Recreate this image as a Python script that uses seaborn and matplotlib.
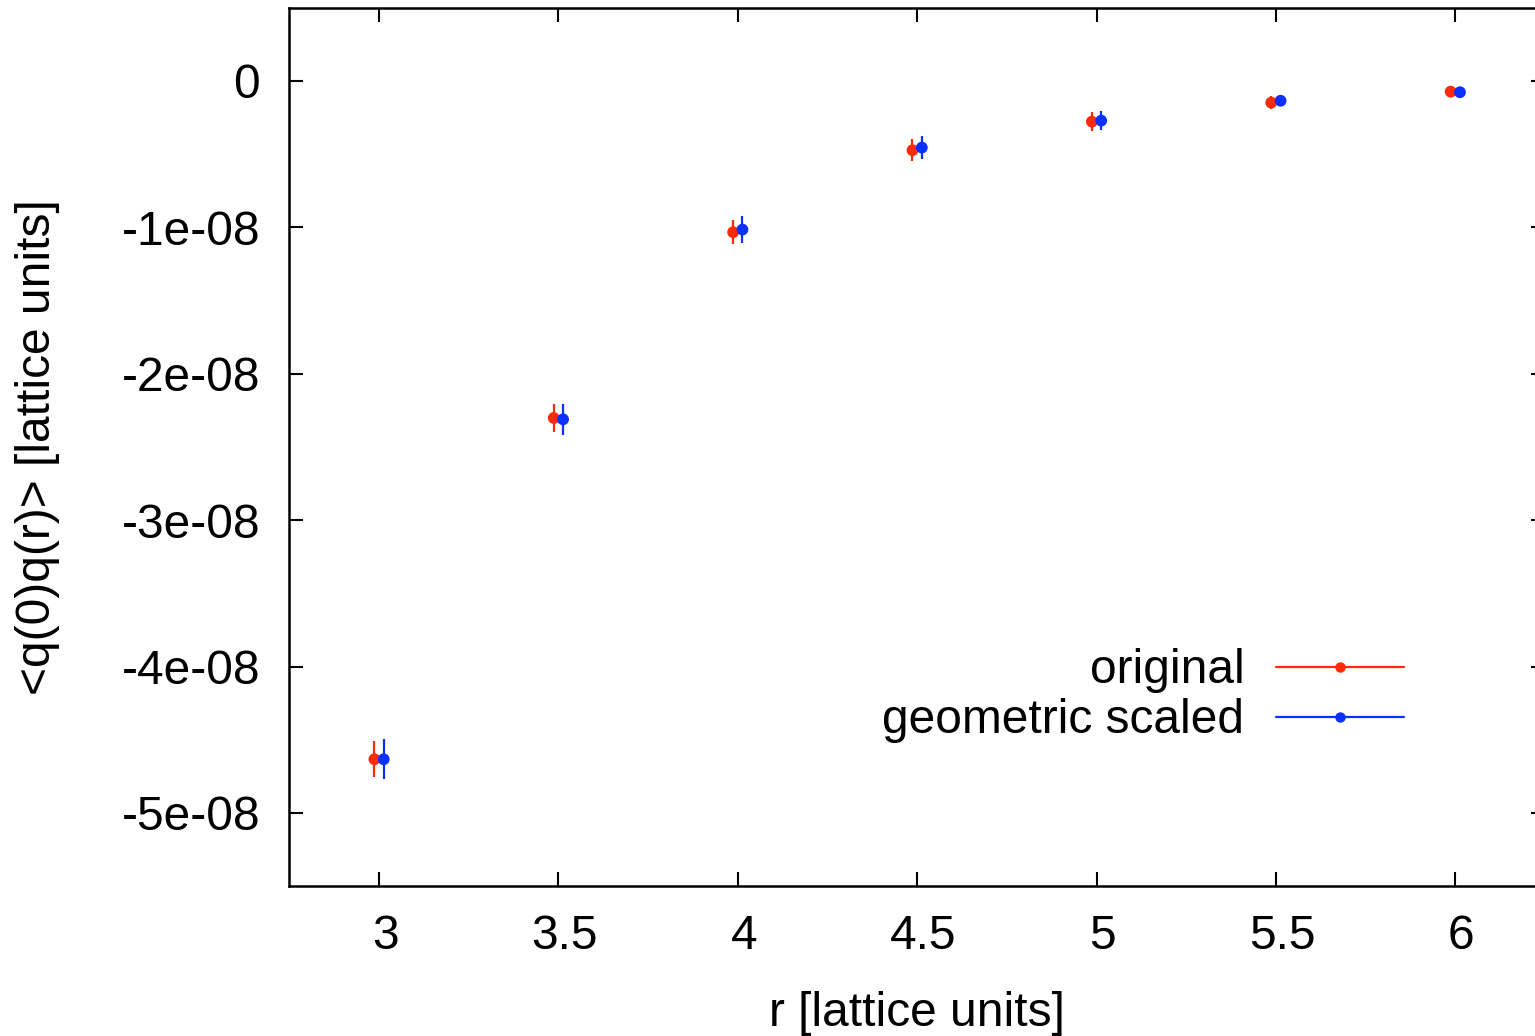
import numpy as np
import pandas as pd
import matplotlib
matplotlib.use('Agg')
import matplotlib.pyplot as plt
from matplotlib.lines import Line2D
from matplotlib.transforms import ScaledTranslation
import seaborn as sns

# distances and correlator values
r = [3.0, 3.5, 4.0, 4.5, 5.0, 5.5, 6.0]
corr_original = [-4.633e-8, -2.302e-8, -1.033e-8, -0.473e-8, -0.278e-8, -0.148e-8, -0.073e-8]
err_original = [1.24e-9, 0.94e-9, 0.83e-9, 0.77e-9, 0.63e-9, 0.42e-9, 0.39e-9]
corr_geometric = [-4.633e-8, -2.311e-8, -1.015e-8, -0.455e-8, -0.271e-8, -0.135e-8, -0.077e-8]
err_geometric = [1.37e-9, 1.08e-9, 0.94e-9, 0.80e-9, 0.65e-9, 0.25e-9, 0.20e-9]

series = ['original', 'geometric scaled']
colors = {'original': '#ff2a0a', 'geometric scaled': '#0a30ff'}
shift = {'original': -0.013, 'geometric scaled': 0.013}  # small x offset so bars don't overlap

df = pd.concat([
    pd.DataFrame({'r': r, 'corr': corr_original, 'err': err_original, 'series': 'original'}),
    pd.DataFrame({'r': r, 'corr': corr_geometric, 'err': err_geometric, 'series': 'geometric scaled'}),
], ignore_index=True)
df['x'] = df['r'] + df['series'].map(shift)

sns.set_style('ticks')
plt.rcParams['font.family'] = ['Liberation Sans', 'DejaVu Sans']
plt.rcParams['text.color'] = 'black'
plt.rcParams['axes.labelcolor'] = 'black'

FS = 34.5

fig = plt.figure(figsize=(15.35, 10.36), dpi=100)
ax = fig.add_axes([0.1885, 0.1446, 0.818, 0.8479])

for name in series:
    sub = df[df['series'] == name]
    ax.errorbar(sub['x'], sub['corr'], yerr=sub['err'], fmt='none',
                ecolor=colors[name], elinewidth=1.6, capsize=0)

sns.scatterplot(data=df, x='x', y='corr', hue='series', palette=colors,
                s=72, edgecolor='none', legend=False, ax=ax, zorder=3)

ax.set_xlim(2.75, 6.25)
ax.set_ylim(-5.5e-8, 0.5e-8)
ax.set_xticks(r)
ax.set_xticklabels(['3', '3.5', '4', '4.5', '5', '5.5', '6'])
yt = [0, -1e-8, -2e-8, -3e-8, -4e-8, -5e-8]
ax.set_yticks(yt)
ax.set_yticklabels(['0', '-1e-08', '-2e-08', '-3e-08', '-4e-08', '-5e-08'])

ax.tick_params(axis='both', direction='in', length=10, width=1.5, top=True, right=True,
               labelsize=FS, colors='black')
ax.tick_params(axis='x', pad=20)
ax.tick_params(axis='y', pad=21)
# gnuplot puts the x labels a few pixels right of the ticks
for lab in ax.get_xticklabels():
    lab.set_transform(lab.get_transform() + ScaledTranslation(0.06, 0, fig.dpi_scale_trans))
for sp in ax.spines.values():
    sp.set_linewidth(1.8)
    sp.set_color('black')

ax.set_xlabel('r [lattice units]', fontsize=FS, labelpad=23)
ax.set_ylabel('<q(0)q(r)> [lattice units]', fontsize=FS, labelpad=44)

handles = [Line2D([], [], color=colors[n], lw=1.6, marker='o', markersize=6.5) for n in series]
ax.legend(handles, series, loc='upper right', bbox_to_anchor=(0.888, 0.2706),
          frameon=False, markerfirst=False, fontsize=FS, handlelength=2.67,
          handletextpad=0.67, labelspacing=0.1, borderpad=0, borderaxespad=0)

plt.savefig('out.png', dpi=100)
